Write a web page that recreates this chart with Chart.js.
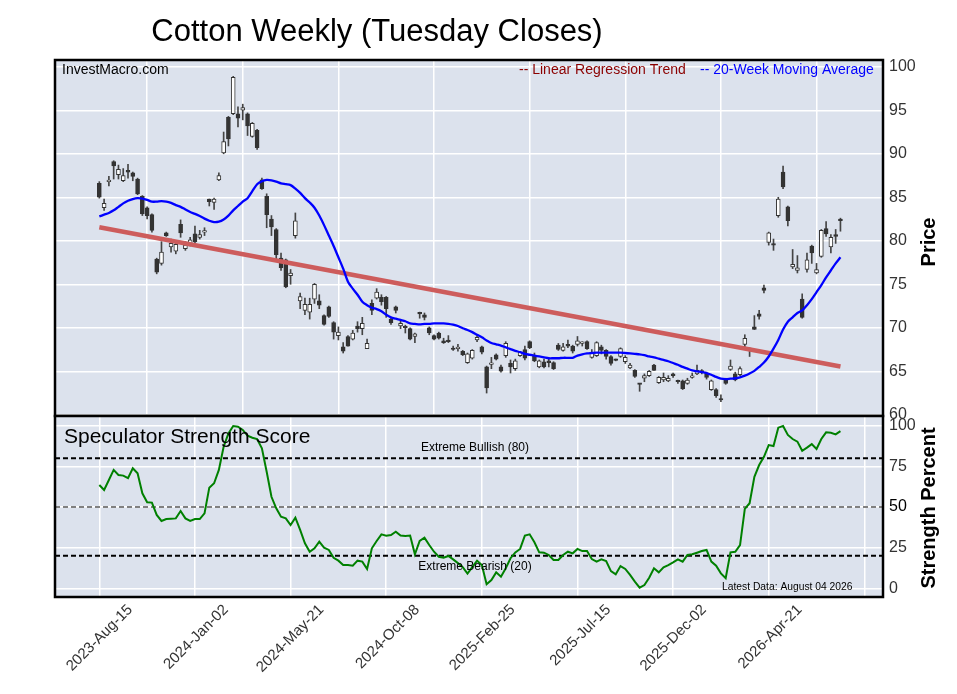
<!DOCTYPE html>
<html><head><meta charset="utf-8">
<script src="https://cdn.jsdelivr.net/npm/chart.js@4.4.1/dist/chart.umd.min.js"></script>
<style>
html,body{margin:0;padding:0;background:#fff;width:957px;height:694px;overflow:hidden;}
#c1{position:absolute;left:0;top:0;}
#c2{position:absolute;left:0;top:396px;}
</style></head><body>
<canvas id="c1" width="957" height="432"></canvas>
<canvas id="c2" width="957" height="298"></canvas>
<script>
// ---------- DATA ----------
const tickWeeks = [0, 20, 40, 60, 80, 100, 120, 140, 160];
const tickLabels = ['2023-Aug-15','2024-Jan-02','2024-May-21','2024-Oct-08','2025-Feb-25','2025-Jul-15','2025-Dec-02','2026-Apr-21',''];
const priceTicks = [60, 65, 70, 75, 80, 85, 90, 95, 100];
const strengthTicks = [0, 25, 50, 75, 100];
const strengthLevels = [80, 50, 20];

const opens = [86.6,83.8,86.8,89.1,87.6,86.9,88.1,87.8,87.1,85.1,83.8,83.0,77.9,77.4,80.9,79.3,78.8,81.9,79.1,79.6,
80.8,80.4,81.0,84.8,84.4,87.0,90.1,94.2,94.6,94.6,95.0,94.6,92.0,92.7,87.0,85.1,82.5,81.3,78.0,77.8,
76.0,80.6,73.1,72.0,71.8,73.3,73.1,71.4,72.4,70.6,69.1,67.8,69.0,68.7,70.2,69.9,67.6,72.8,73.4,73.5,
73.5,71.0,72.4,70.2,70.1,69.9,69.0,71.7,71.5,70.0,69.1,69.4,68.5,68.6,67.6,67.6,67.3,66.0,66.5,68.6,
67.8,65.5,65.8,66.9,65.5,66.8,65.9,65.3,66.8,67.5,68.4,66.8,65.5,66.1,66.2,66.0,68.0,67.4,68.1,67.9,
68.1,68.2,68.4,66.6,66.8,67.8,67.4,66.7,66.35,66.7,66.1,65.4,65.1,63.6,64.2,64.5,65.7,63.7,64.0,63.9,
64.7,63.9,63.9,63.6,64.3,64.7,65.0,64.8,62.9,62.9,61.8,64.1,65.2,64.7,64.6,68.1,67.6,70.1,71.6,74.6,
79.8,79.6,82.9,87.9,83.9,77.0,76.6,73.3,76.7,79.4,76.3,78.2,81.4,79.3,80.7,82.5];
const highs = [86.8,84.8,87.4,89.2,88.7,88.3,88.8,87.9,87.2,85.2,83.9,83.1,78.0,79.9,81.0,80.2,79.9,82.4,79.9,80.4,
81.7,81.2,81.5,84.8,84.9,87.8,92.5,94.3,98.9,95.4,95.7,94.7,93.6,92.8,87.2,85.4,82.9,81.4,78.6,77.9,
76.7,83.2,74.0,73.4,73.4,75.1,73.8,71.5,72.5,70.7,70.1,68.3,69.1,69.7,70.7,71.2,68.7,73.2,74.5,73.8,
73.6,71.1,72.5,70.9,70.3,70.0,69.4,71.8,71.7,70.1,69.2,69.5,68.8,69.1,67.9,68.1,67.4,67.1,67.5,69.2,
67.9,65.6,66.6,67.0,65.7,68.4,66.3,66.4,67.3,67.9,68.5,67.1,66.3,66.4,66.5,66.1,68.2,68.2,68.6,68.0,
69.0,68.4,68.5,67.5,68.4,68.0,67.5,66.8,66.4,67.7,66.8,65.9,65.2,63.6,64.7,65.1,65.8,64.4,64.8,64.5,
64.8,64.0,64.0,64.2,64.8,65.7,65.2,64.9,64.0,63.0,62.3,64.2,66.3,64.9,65.5,69.2,67.7,71.4,72.0,74.9,
81.0,80.2,85.0,88.6,84.0,79.0,78.3,73.9,78.6,79.5,77.4,81.3,82.2,80.7,81.3,82.6];
const lows = [84.9,83.5,86.3,87.1,87.1,86.8,87.2,86.9,85.3,82.9,82.5,81.0,76.2,77.2,80.5,78.7,78.5,80.4,78.9,79.4,
79.7,80.2,80.6,84.0,83.6,86.9,90.0,90.9,94.5,93.1,93.9,92.1,91.9,90.5,85.9,81.5,80.6,77.9,76.6,74.6,
75.0,80.3,72.2,71.5,71.0,72.8,72.2,70.3,71.2,68.7,68.6,67.1,67.9,68.6,69.5,69.2,67.6,71.5,73.3,72.6,
71.2,70.4,71.7,69.9,69.4,68.6,68.3,71.1,70.9,69.2,68.6,68.7,68.2,68.3,67.4,67.3,66.8,65.9,66.4,68.4,
67.0,62.5,65.3,66.3,64.9,66.6,64.8,65.1,66.7,66.3,67.6,66.1,65.4,65.4,65.5,65.2,67.4,67.3,67.7,67.1,
67.9,67.9,67.5,66.5,66.7,67.0,66.4,65.7,66.2,66.6,65.9,65.3,64.3,62.7,63.8,64.4,65.1,63.6,63.8,63.8,
64.3,63.6,62.9,63.5,64.2,64.6,64.7,64.1,62.8,62.0,61.5,63.5,65.1,63.9,64.5,67.6,66.7,69.8,71.0,74.0,
79.5,78.9,82.7,86.0,81.7,76.8,76.3,71.1,76.4,77.4,76.2,78.1,80.5,78.6,79.7,81.1];
const closes = [85.0,84.3,86.9,88.6,88.2,87.5,87.9,87.4,85.4,83.1,82.9,81.2,76.4,78.7,80.6,79.7,79.6,80.9,79.5,80.1,
79.9,80.7,81.1,84.5,84.8,87.5,91.4,91.7,98.8,94.1,95.3,93.2,93.5,90.7,86.0,83.0,81.6,78.4,76.9,74.7,
76.3,82.3,73.6,72.7,72.7,75.0,72.6,70.4,71.3,69.5,69.5,67.3,67.9,69.4,69.9,70.5,68.2,72.0,74.1,73.0,
72.2,70.6,72.0,70.5,70.0,68.7,69.3,71.6,71.2,69.4,68.7,68.8,68.3,68.4,67.5,67.7,66.9,67.0,67.4,68.9,
67.2,63.1,65.9,66.4,65.0,68.2,65.5,66.2,67.2,66.5,67.7,66.2,66.2,65.5,66.0,65.3,67.5,67.8,67.9,67.3,
68.5,68.3,67.6,67.1,68.3,67.4,66.7,65.9,66.25,67.6,66.6,65.7,64.4,63.5,64.5,65.0,65.1,64.3,64.3,64.2,
64.5,63.8,63.0,64.0,64.4,65.1,64.9,64.3,63.9,62.2,61.7,63.6,65.6,64.0,65.3,68.8,67.5,69.8,71.3,74.3,
80.9,79.5,84.8,86.2,82.3,77.3,76.9,71.2,77.8,78.6,76.7,81.2,80.8,80.4,80.5,82.3];
const ma20 = [82.8,83.0,83.2,83.5,83.9,84.3,84.6,84.8,84.9,84.85,84.7,84.5,84.5,84.55,84.5,84.35,84.1,83.9,83.6,83.3,
83.1,82.85,82.55,82.3,82.15,82.2,82.45,82.9,83.5,84.0,84.5,84.9,85.7,86.5,86.85,87.0,86.95,86.8,86.6,86.5,
86.4,86.0,85.5,84.9,84.4,83.8,82.9,81.8,80.6,79.4,78.1,76.8,75.3,74.5,73.8,73.0,72.6,72.3,72.15,71.9,
71.5,71.2,71.05,70.9,70.75,70.5,70.45,70.4,70.45,70.45,70.5,70.5,70.5,70.45,70.35,70.2,69.95,69.75,69.5,69.2,
68.9,68.55,68.25,68.1,67.95,67.75,67.55,67.35,67.2,67.0,66.9,66.8,66.7,66.6,66.5,66.5,66.5,66.55,66.55,66.55,
66.8,66.95,67.05,67.1,67.15,67.15,67.15,67.15,67.15,67.15,67.1,67.05,67.0,66.95,66.85,66.7,66.6,66.45,66.3,66.15,
65.95,65.75,65.5,65.3,65.1,65.0,64.9,64.8,64.6,64.35,64.15,64.1,64.15,64.2,64.3,64.5,64.75,65.05,65.5,66.0,
66.7,67.6,68.6,69.8,70.7,71.2,71.7,72.0,72.6,73.3,74.1,74.9,75.8,76.6,77.4,78.1];
const trendWeeks = [0, 155];
const trendValues = [81.55, 65.55];
const strength = [63.5,60.5,66.6,72.8,69.7,69.3,67.7,73.8,70.7,58.4,52.9,52.7,45.1,41.4,42.6,42.8,43.0,47.5,43.0,41.4,
42.6,42.6,46.1,61.9,64.6,72.8,87.1,95.3,99.8,99.4,97.4,93.9,92.6,91.8,86.1,71.7,56.3,49.2,44.0,43.0,
38.9,43.4,35.9,27.7,22.5,24.6,28.7,25.0,23.6,18.8,17.0,14.3,14.3,13.9,17.0,16.4,11.9,24.6,29.1,33.2,
32.4,32.8,34.8,32.4,32.2,32.4,20.9,29.1,31.1,26.6,22.5,19.4,18.8,19.9,17.8,15.5,13.0,9.0,13.0,17.0,
14.3,2.5,5.1,9.8,7.1,12.3,18.5,22.1,24.2,32.4,33.2,28.3,22.1,21.9,20.5,17.4,17.4,20.5,22.5,21.5,
24.2,22.9,22.9,18.0,16.4,17.8,16.8,10.6,8.6,13.7,11.9,8.2,4.1,0.4,2.0,6.5,12.3,9.8,12.9,14.3,
16.0,17.8,16.4,20.5,20.9,21.9,22.9,23.6,16.4,13.9,9.2,6.2,22.1,22.5,26.6,48.8,52.3,68.6,75.8,80.9,
88.1,87.5,98.8,99.8,94.3,91.8,90.2,84.6,86.5,88.7,85.7,91.8,95.9,95.7,94.7,96.7];

// ---------- STYLE ----------
const FONT = "'Liberation Sans', Arial, Helvetica, sans-serif";
Chart.defaults.font.family = FONT;
const BG = '#dce2ed';
const X_MIN = -9.27, X_MAX = 163.9;
const weeks = opens.map((_, i) => i);

function drawTexts(ctx, items) {
  items.forEach(t => {
    ctx.save();
    ctx.font = t.font;
    ctx.fillStyle = t.color || '#000';
    ctx.textAlign = t.align || 'left';
    ctx.textBaseline = 'middle';
    ctx.translate(t.x, t.y);
    if (t.rotate) ctx.rotate(t.rotate * Math.PI / 180);
    ctx.fillText(t.text, 0, 0);
    ctx.restore();
  });
}

const panelPlugin = {
  id: 'panel',
  beforeDraw(chart) {
    const {ctx, chartArea: a} = chart;
    ctx.save();
    ctx.fillStyle = BG;
    ctx.fillRect(a.left, a.top, a.right - a.left, a.bottom - a.top);
    ctx.restore();
  },
  beforeDatasetsDraw(chart, args, opts) {
    if (!opts.levels) return;
    const {ctx, chartArea: a} = chart;
    const ys = chart.scales.y;
    opts.levels.forEach(l => {
      const y = ys.getPixelForValue(l.value);
      ctx.save();
      ctx.strokeStyle = l.color;
      ctx.lineWidth = 2;
      ctx.setLineDash([5, 3]);
      ctx.beginPath();
      ctx.moveTo(a.left, y);
      ctx.lineTo(a.right, y);
      ctx.stroke();
      ctx.restore();
    });
  },
  afterDraw(chart, args, opts) {
    const {ctx, chartArea: a} = chart;
    ctx.save();
    ctx.strokeStyle = '#000';
    ctx.lineWidth = 2.5;
    ctx.strokeRect(a.left, a.top, a.right - a.left, a.bottom - a.top);
    ctx.restore();
    drawTexts(ctx, opts.texts || []);
  }
};
Chart.register(panelPlugin);

const gridCfg = {color: '#ffffff', lineWidth: 1.5, drawTicks: false};
const xTickBuild = s => { s.ticks = tickWeeks.map(v => ({value: v})); };

// ---------- TOP: PRICE ----------
new Chart(document.getElementById('c1'), {
  type: 'bar',
  data: {
    datasets: [
      {
        type: 'line', label: '20-Week Moving Average',
        data: weeks.map(i => ({x: i, y: ma20[i]})),
        borderColor: '#0000ff', borderWidth: 2.3, pointRadius: 0, tension: 0.3, order: 0
      },
      {
        type: 'line', label: 'Linear Regression Trend',
        data: trendWeeks.map((w, k) => ({x: w, y: trendValues[k]})),
        borderColor: '#cd5c5c', borderWidth: 4.5, pointRadius: 0, order: 1
      },
      {
        type: 'bar', label: 'Body',
        data: weeks.map(i => ({x: i, y: [opens[i], closes[i]]})),
        backgroundColor: c => closes[c.dataIndex] >= opens[c.dataIndex] ? '#ffffff' : '#333333',
        borderColor: '#333333', borderWidth: 1, borderSkipped: false,
        barThickness: 4, minBarLength: 1.5, grouped: false, order: 2
      },
      {
        type: 'bar', label: 'Range',
        data: weeks.map(i => ({x: i, y: [lows[i], highs[i]]})),
        backgroundColor: '#444444', barThickness: 1, grouped: false, order: 3
      }
    ]
  },
  options: {
    responsive: false, animation: false, events: [],
    layout: {padding: {left: 55, top: 60, right: 0, bottom: 16}},
    plugins: {
      legend: {display: false}, tooltip: {enabled: false},
      panel: {
        texts: [
          {text: 'Cotton Weekly (Tuesday Closes)', x: 377, y: 32, font: '31px ' + FONT, align: 'center'},
          {text: 'InvestMacro.com', x: 62, y: 70, font: '14px ' + FONT},
          {text: '-- Linear Regression Trend', x: 519, y: 70, font: '14px ' + FONT, color: '#8b0000'},
          {text: '-- 20-Week Moving Average', x: 700, y: 70, font: '14px ' + FONT, color: '#0000ff'},
          {text: 'Price', x: 929, y: 242, font: 'bold 20px ' + FONT, align: 'center', rotate: -90}
        ]
      }
    },
    scales: {
      x: {
        type: 'linear', min: X_MIN, max: X_MAX, offset: false,
        afterBuildTicks: xTickBuild,
        ticks: {display: false},
        grid: gridCfg, border: {display: false},
        afterFit: s => { s.height = 0; }
      },
      y: {
        position: 'right', min: 59.86, max: 100.78,
        afterBuildTicks: s => { s.ticks = priceTicks.map(v => ({value: v})); },
        ticks: {font: {size: 16}, color: '#333333', padding: 6},
        grid: gridCfg, border: {display: false},
        afterFit: s => { s.width = 74; }
      }
    }
  }
});

// ---------- BOTTOM: STRENGTH ----------
new Chart(document.getElementById('c2'), {
  type: 'line',
  data: {
    datasets: [{
      label: 'Speculator Strength Score',
      data: weeks.map(i => ({x: i, y: strength[i]})),
      borderColor: '#008000', borderWidth: 2, pointRadius: 0, tension: 0
    }]
  },
  options: {
    responsive: false, animation: false, events: [],
    layout: {padding: {left: 55, top: 20, right: 0, bottom: 0}},
    plugins: {
      legend: {display: false}, tooltip: {enabled: false},
      panel: {
        levels: strengthLevels.map(v => ({value: v, color: v === 50 ? '#808080' : '#000000'})),
        texts: [
          {text: 'Speculator Strength Score', x: 64, y: 41, font: '21px ' + FONT},
          {text: 'Extreme Bullish (80)', x: 475, y: 52, font: '12px ' + FONT, align: 'center'},
          {text: 'Extreme Bearish (20)', x: 475, y: 171, font: '12px ' + FONT, align: 'center'},
          {text: 'Latest Data: August 04 2026', x: 722, y: 191, font: '10.3px ' + FONT},
          {text: 'Strength Percent', x: 929, y: 112, font: 'bold 20px ' + FONT, align: 'center', rotate: -90}
        ]
      }
    },
    scales: {
      x: {
        type: 'linear', min: X_MIN, max: X_MAX, offset: false,
        afterBuildTicks: xTickBuild,
        ticks: {
          autoSkip: false, maxRotation: 45, minRotation: 45, padding: 4, labelOffset: 31,
          font: {size: 15}, color: '#333333',
          callback: v => { const k = tickWeeks.indexOf(v); return k >= 0 ? tickLabels[k] : ''; }
        },
        grid: gridCfg, border: {display: false},
        afterFit: s => { s.height = 97; }
      },
      y: {
        position: 'right', min: -5.35, max: 105.97,
        afterBuildTicks: s => { s.ticks = strengthTicks.map(v => ({value: v})); },
        ticks: {font: {size: 16}, color: c => c.tick && c.tick.value === 50 ? '#000000' : '#333333', padding: 6},
        grid: gridCfg, border: {display: false},
        afterFit: s => { s.width = 74; }
      }
    }
  }
});
</script>
</body></html>
